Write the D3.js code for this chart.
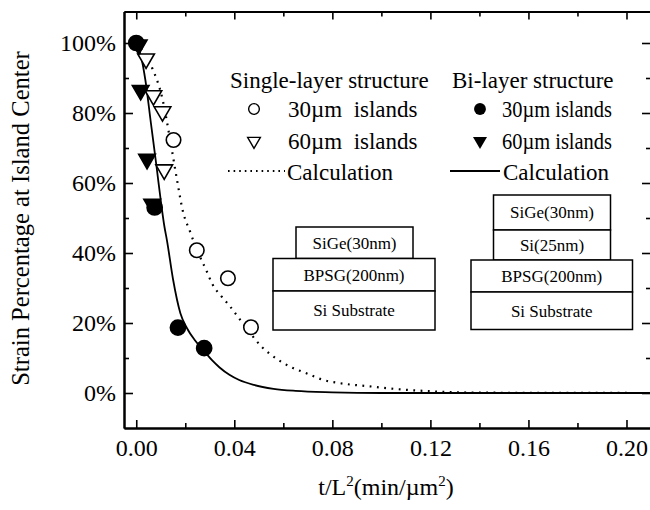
<!DOCTYPE html>
<html>
<head>
<meta charset="utf-8">
<script src="https://cdn.jsdelivr.net/npm/d3@7"></script>
<style>
  html, body { margin: 0; padding: 0; background: #fff; }
  svg { display: block; font-family: "Liberation Serif", "DejaVu Serif", serif; }
</style>
</head>
<body>
<svg id="chart" width="650" height="510"></svg>
<script>
// Measured strain relaxation (percent of initial strain) versus t/L^2
const singleCircleX = [0.0152, 0.0247, 0.0374, 0.0468];
const singleCircleY = [72.3, 40.8, 32.8, 18.8];
const singleTriX = [0.0040, 0.0070, 0.0107, 0.0114];
const singleTriY = [95.5, 85.0, 80.4, 63.8];
const biCircleX = [0.0000, 0.0075, 0.0170, 0.0277];
const biCircleY = [100.0, 53.0, 18.7, 12.8];
const biTriX = [0.0010, 0.0018, 0.0044, 0.0065];
const biTriY = [99.5, 86.5, 66.8, 54.0];

// Calculated curves
const singleCalcX = [0, 0.003, 0.0064, 0.0107, 0.0139, 0.0166, 0.019, 0.022, 0.0247, 0.0288, 0.0309, 0.0349, 0.0383, 0.0424, 0.0465, 0.0512, 0.056, 0.0628, 0.0696, 0.0764, 0.0832, 0.0967, 0.1035, 0.12, 0.14, 0.21];
const singleCalcY = [100, 97.5, 93, 84, 72, 61, 52, 46, 41, 34.7, 31.3, 27.5, 24.7, 20.9, 17.1, 13.2, 10.4, 7.5, 5.6, 3.7, 2.8, 1.8, 1.3, 0.5, 0.1, 0];
const biCalcX = [0, 0.002, 0.0037, 0.006, 0.0084, 0.010, 0.0115, 0.0125, 0.015, 0.018, 0.0207, 0.024, 0.0277, 0.031, 0.034, 0.038, 0.042, 0.048, 0.056, 0.065, 0.08, 0.1, 0.21];
const biCalcY = [100, 96, 89.5, 77, 64, 55, 47.5, 43.7, 32.5, 22.8, 18.5, 15, 12, 9.3, 7.3, 5.2, 3.7, 2.3, 1.2, 0.6, 0.2, 0, 0];

// Axis ticks
const xMajorTicks = [0, 0.04, 0.08, 0.12, 0.16, 0.20];
const xMinorTicks = [0.02, 0.06, 0.10, 0.14, 0.18];
const yMajorTicks = [0, 20, 40, 60, 80, 100];
const yMinorTicks = [10, 30, 50, 70, 90];

// Legend and schematic labels
const legendHeaders = ["Single-layer structure", "Bi-layer structure"];
const singleLegend = ["30\u00b5m  islands", "60\u00b5m  islands", "Calculation"];
const biLegend = ["30\u00b5m islands", "60\u00b5m islands", "Calculation"];
const singleStack = ["SiGe(30nm)", "BPSG(200nm)", "Si Substrate"];
const biStack = ["SiGe(30nm)", "Si(25nm)", "BPSG(200nm)", "Si Substrate"];

const svg = d3.select("#chart");
const plotLeft = 124, plotRight = 651, plotTop = 11.5, plotBottom = 428;

const x = d3.scaleLinear().domain([-0.005, 0.21]).range([plotLeft, plotRight]);
const y = d3.scaleLinear().domain([-10, 109]).range([plotBottom, plotTop]);

const zip = (xs, ys) => xs.map((v, i) => [v, ys[i]]);

// Axes with inward ticks on all four sides
function styleAxis(g) {
  g.selectAll(".domain").attr("stroke", "#000").attr("stroke-width", 2);
  g.selectAll(".tick line").attr("stroke", "#000").attr("stroke-width", 1.6);
  g.selectAll(".tick text").attr("fill", "#000").style("font-size", "24px")
    .style("font-family", "'Liberation Serif', 'DejaVu Serif', serif");
}

const fmtX = d3.format(".2f");
svg.append("g").attr("transform", `translate(0,${plotBottom})`)
  .call(d3.axisBottom(x).tickValues(xMajorTicks).tickFormat(fmtX).tickSizeInner(-8).tickSizeOuter(0).tickPadding(11))
  .call(styleAxis);
svg.append("g").attr("transform", `translate(0,${plotBottom})`)
  .call(d3.axisBottom(x).tickValues(xMinorTicks).tickFormat("").tickSizeInner(-5).tickSizeOuter(0))
  .call(styleAxis);
svg.append("g").attr("transform", `translate(0,${plotTop})`)
  .call(d3.axisTop(x).tickValues(xMajorTicks).tickFormat("").tickSizeInner(-8).tickSizeOuter(0))
  .call(styleAxis);
svg.append("g").attr("transform", `translate(0,${plotTop})`)
  .call(d3.axisTop(x).tickValues(xMinorTicks).tickFormat("").tickSizeInner(-5).tickSizeOuter(0))
  .call(styleAxis);

svg.append("g").attr("transform", `translate(${plotLeft},0)`)
  .call(d3.axisLeft(y).tickValues(yMajorTicks).tickFormat(d => d + "%").tickSizeInner(-9).tickSizeOuter(0).tickPadding(8))
  .call(styleAxis);
svg.append("g").attr("transform", `translate(${plotLeft},0)`)
  .call(d3.axisLeft(y).tickValues(yMinorTicks).tickFormat("").tickSizeInner(-5).tickSizeOuter(0))
  .call(styleAxis);
svg.append("g").attr("transform", `translate(${plotRight},0)`)
  .call(d3.axisRight(y).tickValues(yMajorTicks).tickFormat("").tickSizeInner(-9).tickSizeOuter(0))
  .call(styleAxis);
svg.append("g").attr("transform", `translate(${plotRight},0)`)
  .call(d3.axisRight(y).tickValues(yMinorTicks).tickFormat("").tickSizeInner(-5).tickSizeOuter(0))
  .call(styleAxis);

// Axis titles
svg.append("text")
  .attr("transform", `translate(29,218.5) rotate(-90)`)
  .attr("text-anchor", "middle")
  .style("font-size", "24.6px")
  .text("Strain Percentage at Island Center");

const xt = svg.append("text")
  .attr("x", 386).attr("y", 495)
  .attr("text-anchor", "middle")
  .style("font-size", "24px");
xt.append("tspan").text("t/L");
xt.append("tspan").attr("dy", -9).style("font-size", "15px").text("2");
xt.append("tspan").attr("dy", 9).text("(min/\u00b5m");
xt.append("tspan").attr("dy", -9).style("font-size", "15px").text("2");
xt.append("tspan").attr("dy", 9).text(")");

// Calculated curves
const line = d3.line().x(d => x(d[0])).y(d => y(d[1])).curve(d3.curveMonotoneX);
const plot = svg.append("g");
plot.append("path").datum(zip(singleCalcX, singleCalcY))
  .attr("d", line).attr("fill", "none").attr("stroke", "#000")
  .attr("stroke-width", 2.2).attr("stroke-dasharray", "1.8,5.5").attr("stroke-linecap", "butt");
plot.append("path").datum(zip(biCalcX, biCalcY))
  .attr("d", line).attr("fill", "none").attr("stroke", "#000").attr("stroke-width", 1.8);

// Markers
const circleSym = d3.symbol().type(d3.symbolCircle);
const triSym = d3.symbol().type(d3.symbolTriangle);

function drawMarkers(pts, kind, filled, size) {
  plot.selectAll(null).data(pts).join("path")
    .attr("transform", d => `translate(${x(d[0])},${y(d[1])})` + (kind === "tri" ? " rotate(180)" : ""))
    .attr("d", (kind === "tri" ? triSym : circleSym).size(size)())
    .attr("fill", filled ? "#000" : "#fff")
    .attr("stroke", "#000").attr("stroke-width", 1.6);
}
drawMarkers(zip(singleCircleX, singleCircleY), "circle", false, 165);
drawMarkers(zip(singleTriX, singleTriY), "tri", false, 120);
drawMarkers(zip(biTriX, biTriY), "tri", true, 120);
drawMarkers(zip(biCircleX, biCircleY), "circle", true, 180);

// Legend
const legend = svg.append("g").style("font-size", "23px");
legend.append("text").attr("x", 230).attr("y", 88).text(legendHeaders[0]);
legend.append("text").attr("x", 452).attr("y", 88).text(legendHeaders[1]);
const rowY = [117, 149, 180];
const markRowY = [109, 141, 171];

singleLegend.forEach((t, i) => {
  legend.append("text").attr("x", i === 2 ? 287 : 288).attr("y", rowY[i])
    .style("white-space", "pre").attr("xml:space", "preserve").text(t);
});
biLegend.forEach((t, i) => {
  const el = legend.append("text").attr("x", i === 2 ? 503 : 502).attr("y", rowY[i]).text(t);
  if (i < 2) el.attr("textLength", 110).attr("lengthAdjust", "spacingAndGlyphs");
});

legend.append("path").attr("transform", `translate(254,${markRowY[0]})`)
  .attr("d", circleSym.size(90)()).attr("fill", "#fff").attr("stroke", "#000").attr("stroke-width", 1.4);
legend.append("path").attr("transform", `translate(254,${markRowY[1]}) rotate(180)`)
  .attr("d", triSym.size(70)()).attr("fill", "#fff").attr("stroke", "#000").attr("stroke-width", 1.4);
legend.append("line").attr("x1", 228).attr("x2", 285).attr("y1", markRowY[2]).attr("y2", markRowY[2])
  .attr("stroke", "#000").attr("stroke-width", 1.8).attr("stroke-dasharray", "1.6,4");
legend.append("path").attr("transform", `translate(480,${markRowY[0]})`)
  .attr("d", circleSym.size(110)()).attr("fill", "#000");
legend.append("path").attr("transform", `translate(480,${markRowY[1]}) rotate(180)`)
  .attr("d", triSym.size(85)()).attr("fill", "#000");
legend.append("line").attr("x1", 450).attr("x2", 500).attr("y1", markRowY[2]).attr("y2", markRowY[2])
  .attr("stroke", "#000").attr("stroke-width", 1.8);

// Layer-stack schematics
function drawStack(layers, boxes) {
  const g = svg.append("g");
  layers.forEach((name, i) => {
    const b = boxes[i];
    g.append("rect").attr("x", b[0]).attr("y", b[1]).attr("width", b[2] - b[0]).attr("height", b[3] - b[1])
      .attr("fill", "#fff").attr("stroke", "#000").attr("stroke-width", 1.5);
    g.append("text").attr("x", (b[0] + b[2]) / 2).attr("y", (b[1] + b[3]) / 2)
      .attr("dy", "0.35em").attr("text-anchor", "middle").style("font-size", "17px").text(name);
  });
}
drawStack(singleStack, [[296, 227, 413, 258.5], [273, 258.5, 435, 291], [273, 291, 435, 330]]);
drawStack(biStack, [[493.5, 195, 610.5, 230], [493.5, 230, 610.5, 260], [471, 260, 632.5, 292], [471, 292, 632.5, 329.5]]);
</script>
</body>
</html>
